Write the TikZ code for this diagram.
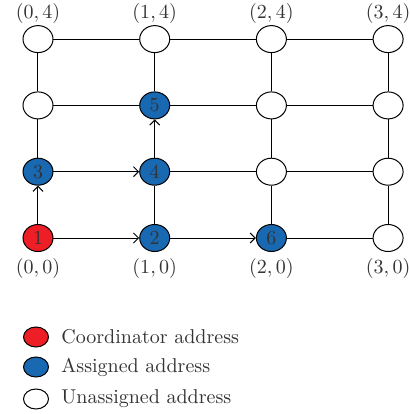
\documentclass[tikz,border=0pt]{standalone}
\usetikzlibrary{shapes.geometric,arrows.meta}
\definecolor{coordred}{RGB}{237,30,38}
\definecolor{assignblue}{RGB}{24,104,178}
\begin{document}
\begin{tikzpicture}[x=0.5pt,y=-0.5pt,
      addr/.style={draw,ellipse,minimum width=15pt,minimum height=13.5pt,
                   inner sep=0pt,fill=white,line width=0.5pt,text=black!80},
      coord/.style={addr,fill=coordred},
      assigned/.style={addr,fill=assignblue},
      link/.style={line width=0.5pt},
      dirlink/.style={link,-{Straight Barb[length=2.5pt,width=5pt]}},
      key/.style={draw,ellipse,minimum width=12.5pt,minimum height=10pt,
                  inner sep=0pt,line width=0.5pt},
      keytext/.style={anchor=west,inner sep=0pt,text=black!80},
      gridlabel/.style={inner sep=0pt,text=black!80}
    ]
    \useasboundingbox (0,0) rectangle (410,414);
    \foreach \i/\j/\s/\t in {0/0/coord/1,1/0/assigned/2,2/0/assigned/6,3/0/addr/{},
                             0/1/assigned/3,1/1/assigned/4,2/1/addr/{},3/1/addr/{},
                             0/2/addr/{},1/2/assigned/5,2/2/addr/{},3/2/addr/{},
                             0/3/addr/{},1/3/addr/{},2/3/addr/{},3/3/addr/{}}
        \node[\s] (n\i\j) at ({38+116.7*\i},{238-66.3*\j}) {\t};
    \foreach \i in {0,1,2,3} {
        \node[gridlabel] (top\i) at ({38+116.7*\i},13) {$(\i,4)$};
        \node[gridlabel] (bot\i) at ({38+116.7*\i},268) {$(\i,0)$};
    }
    \draw[dirlink] (n00) -- (n10);
    \draw[dirlink] (n10) -- (n20);
    \draw[dirlink] (n00) -- (n01);
    \draw[dirlink] (n01) -- (n11);
    \draw[dirlink] (n11) -- (n12);
    \draw[link] (n20) -- (n30);
    \foreach \j in {2,3}
        \foreach \i/\k in {0/1,1/2,2/3}
            \draw[link] (n\i\j) -- (n\k\j);
    \draw[link] (n11) -- (n21) (n21) -- (n31);
    \draw[link] (n01) -- (n02) (n02) -- (n03);
    \draw[link] (n10) -- (n11) (n12) -- (n13);
    \foreach \i in {2,3}
        \foreach \j/\k in {0/1,1/2,2/3}
            \draw[link] (n\i\j) -- (n\i\k);
    \node[key,fill=coordred] (kcoord) at (36,337) {};
    \node[key,fill=assignblue] (kassign) at (36,367) {};
    \node[key,fill=white] (kfree) at (36,399) {};
    \node[keytext] at (61,337) {Coordinator address};
    \node[keytext] at (61,367) {Assigned address};
    \node[keytext] at (61,399) {Unassigned address};
\end{tikzpicture}
\end{document}
